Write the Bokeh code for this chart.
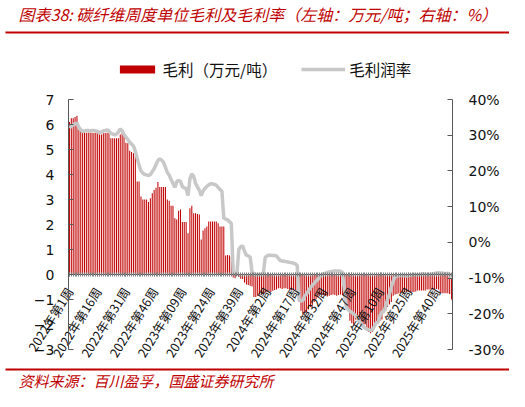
import math
from bokeh.plotting import figure
from bokeh.models import (Range1d, LinearAxis, SingleIntervalTicker, FixedTicker,
                          PrintfTickFormatter, Label, BoxAnnotation, Legend,
                          LegendItem, ColumnDataSource)
from bokeh.embed import file_html
from bokeh.resources import INLINE

# ---------------- data ----------------
# weekly gross profit (万元/吨), 2022 week 1 .. 2025 week 48
profit = [
    6.10, 6.25, 6.25, 6.30, 6.35,
    5.78, 5.75, 5.70,
    5.68, 5.67, 5.68, 5.67, 5.67, 5.66, 5.67, 5.65, 5.60, 5.60, 5.65, 5.66, 5.67, 5.66,
    5.45, 5.45, 5.45, 5.45, 5.45,
    5.60, 5.75, 5.55,
    5.27, 5.25, 4.95, 4.90, 4.85, 4.75,
    3.72, 3.72, 3.12, 3.00, 3.00, 3.00,
    2.90, 3.05, 3.25, 3.38, 3.47, 3.70,
    3.50, 3.50, 3.50, 3.50,
    3.00, 2.95, 2.75, 2.75, 2.25, 2.20, 2.55, 2.60,
    2.10, 2.10, 2.10, 1.65, 2.65, 2.75, 2.45, 2.45, 2.42, 2.40,
    1.40, 1.76, 1.85, 1.92, 2.12, 2.12, 2.12, 2.12, 2.12, 2.05,
    1.92, 1.92, 1.92, 0.76, 0.78, 0.76, 0.70,
    -0.12, -0.15, -0.05, -0.10, -0.17, -0.18, -0.32, -0.40, -0.42, -0.45, -0.48,
    -0.90, -0.90, -0.85, -0.80, -0.80,
    -0.75, -0.72, -0.70, -0.68, -0.70, -0.65, -0.62, -0.60,
    -0.55, -0.55, -0.58, -0.55, -0.55, -0.58, -0.60, -0.62, -0.60, -0.62, -0.70,
    -1.10, -1.45, -1.60, -1.55, -1.50, -1.40, -1.30, -1.25, -1.10, -1.00, -0.90, -0.82, -0.82, -0.82,
    -0.85, -0.88, -0.85, -0.82, -0.80, -0.82, -0.85, -0.82, -0.80,
    -0.82, -0.95, -1.20, -1.40, -1.85, -1.95, -2.00, -1.80, -1.75, -1.80, -1.97, -2.00, -2.00,
    -2.20, -2.30, -2.35, -2.30, -2.05, -2.00, -1.95, -1.85, -1.80, -1.55, -1.45, -1.30, -1.20,
    -1.10, -0.85, -0.80, -0.78, -0.75,
    -0.75, -0.72, -0.70, -0.70, -0.70, -0.70, -0.70, -0.70, -0.68, -0.64, -0.64, -0.64, -0.64,
    -0.64, -0.60, -0.60, -0.58, -0.60, -0.60, -0.58, -0.60, -0.75, -0.75, -0.75, -0.75, -0.75,
    -0.78, -1.00,
]

# weekly gross margin (%)
margin = [
    32.0, 32.5, 32.9, 33.2, 33.4,
    32.2, 31.5, 31.0,
    31.2, 31.3, 31.3, 31.2, 31.3, 31.3, 31.2, 31.0, 30.8, 30.9, 31.2, 31.3, 31.5, 31.2,
    30.5, 30.3, 30.1, 30.3, 30.9,
    31.8, 31.2, 30.2,
    29.5, 28.8, 28.0, 27.5, 27.0, 25.5,
    23.5, 21.5, 20.0, 19.4, 19.0, 18.9,
    18.7, 19.0, 19.8, 20.6, 21.8, 22.9,
    23.4, 23.0, 22.4, 21.0,
    19.6, 18.8, 17.6, 16.5, 15.4, 17.0, 17.3, 17.1,
    15.6, 15.3, 15.0, 13.1, 17.8, 19.2, 18.5, 16.5, 15.5, 14.6,
    13.1, 14.4, 15.1, 15.7, 16.1, 16.4, 16.4, 16.2, 16.0, 15.4,
    14.8, 14.3, 6.8, 6.5, 6.3, 5.8, 5.3,
    -8.5, -8.6, -8.5, -2.0, -1.2, -1.0, -2.5, -3.6, -3.8, -4.1, -8.3,
    -8.8, -9.0, -9.0, -9.0, -8.9,
    -8.8, -4.2, -3.8, -3.6, -3.6, -3.7, -3.7, -3.8,
    -4.5, -5.1, -5.2, -5.3, -5.4, -5.5, -5.6, -5.7, -5.8, -6.0, -6.5,
    -16.2, -16.4, -16.3, -15.0, -14.4, -13.5, -12.7, -12.0, -11.5, -10.8, -10.4, -9.6, -9.1, -8.8,
    -8.6, -8.4, -8.3, -8.2, -8.1, -8.0, -8.0, -8.0, -8.1,
    -8.4, -13.0, -18.0, -18.8, -19.3, -19.6, -20.0, -20.5, -21.2, -22.0, -22.8, -23.5, -24.0,
    -24.3, -24.5, -24.6, -24.5, -23.5, -22.5, -22.3, -20.5, -19.5, -19.3, -18.0, -16.0, -14.5,
    -12.5, -10.8, -9.6, -9.4, -9.3,
    -9.3, -9.2, -9.3, -9.4, -9.3, -9.2, -9.1, -9.0, -9.0, -9.1, -9.0, -8.9, -8.8,
    -8.9, -9.0, -9.0, -8.9, -8.8, -8.7, -8.6, -8.5, -8.6, -8.6, -8.7, -8.8, -8.6,
    -9.0, -10.0,
]

tick_labels = ["2022年第1周", "2022年第16周", "2022年第31周", "2022年第46周",
               "2023年第09周", "2023年第24周", "2023年第39周", "2024年第2周",
               "2024年第17周", "2024年第32周", "2024年第47周", "2025年第10周",
               "2025年第25周", "2025年第40周"]
tick_pos = [0, 15, 30, 45, 60, 75, 90, 105, 120, 135, 150, 165, 180, 195]

left_lim = (-3, 7)
right_lim = (-30, 40)
series_names = ["毛利（万元/吨）", "毛利润率"]
title_text = "图表38:  碳纤维周度单位毛利及毛利率（左轴：万元/吨；右轴：%）"
source_text = "资料来源：百川盈孚，国盛证券研究所"

# ---------------- layout geometry (canvas px) ----------------
W, H = 509, 391
AX_L, AX_R = 68, 452      # x of left / right axis lines
AX_T, AX_B = 99, 349      # y (from top) of the axis tops / bottoms

RED = "#C00000"
AX = "#595959"
CJK = "Noto Sans CJK SC"
N = len(profit)
idx = list(range(N))

ux = (AX_R - AX_L) / N
x_rng = Range1d(-0.5 - AX_L / ux, N - 0.5 + (W - AX_R) / ux)
uy = (AX_B - AX_T) / (left_lim[1] - left_lim[0])
y_rng = Range1d(left_lim[0] - (H - AX_B) / uy, left_lim[1] + AX_T / uy)
up = (AX_B - AX_T) / (right_lim[1] - right_lim[0])
p_rng = Range1d(right_lim[0] - (H - AX_B) / up, right_lim[1] + AX_T / up)

p = figure(width=W, height=H, output_backend="svg", toolbar_location=None,
           x_range=x_rng, y_range=y_rng, x_axis_location=None, y_axis_location=None,
           min_border=0)
p.extra_y_ranges = {"pct": p_rng}
p.outline_line_color = None
p.xgrid.grid_line_color = None
p.ygrid.grid_line_color = None
p.background_fill_color = "white"
p.border_fill_color = "white"

src = ColumnDataSource(dict(x=idx, profit=profit, margin=margin))
bars = p.vbar(x="x", top="profit", bottom=0, width=0.55, source=src,
              fill_color=RED, line_color=None)
gline = p.line(x="x", y="margin", y_range_name="pct", source=src,
               line_color="#C8C8C8", line_width=3.5)

# category axis sitting on the zero line
xa = LinearAxis(fixed_location=0, bounds=(-0.5, N - 0.5),
                ticker=FixedTicker(ticks=tick_pos, minor_ticks=idx),
                major_label_overrides={k: v for k, v in zip(tick_pos, tick_labels)},
                major_label_orientation=math.radians(58))
xa.axis_line_color = AX
xa.major_tick_in = 2
xa.major_tick_out = 2
xa.minor_tick_in = 2
xa.minor_tick_out = 2
xa.major_tick_line_color = "#808080"
xa.minor_tick_line_color = "#808080"
xa.major_label_standoff = 12
xa.major_label_text_font = CJK
xa.major_label_text_font_size = "12.5px"
xa.major_label_text_color = "#111111"
p.add_layout(xa, "below")

ya = LinearAxis(fixed_location=-0.5, bounds=left_lim,
                ticker=SingleIntervalTicker(interval=1, num_minor_ticks=0))
ra = LinearAxis(fixed_location=N - 0.5, bounds=right_lim, y_range_name="pct",
                ticker=SingleIntervalTicker(interval=10, num_minor_ticks=0),
                formatter=PrintfTickFormatter(format="%d%%"))
for a, so in [(ya, 14), (ra, 16)]:
    a.axis_line_color = AX
    a.major_tick_line_color = AX
    a.major_tick_in = 5
    a.major_tick_out = 0
    a.minor_tick_line_color = None
    a.major_label_standoff = so
    a.major_label_text_font = "DejaVu Sans"
    a.major_label_text_font_size = "14px"
    a.major_label_text_color = "#111111"
p.add_layout(ya, "left")
p.add_layout(ra, "right")

legend = Legend(items=[LegendItem(label=series_names[0], renderers=[bars]),
                       LegendItem(label=series_names[1], renderers=[gline])],
                orientation="horizontal", location=(114.6, H - 79.5),
                glyph_width=44, glyph_height=10, label_height=10, label_standoff=4,
                spacing=24, padding=0, margin=0, border_line_color=None,
                background_fill_alpha=0, label_text_font=CJK,
                label_text_font_size="15.5px", label_text_color="#111111")
p.add_layout(legend)

# title and source note (screen px measured up from the canvas bottom)
for txt, ty, fs in [(title_text, H - 13, "16px"), (source_text, H - 380, "15px")]:
    p.add_layout(Label(x=18, y=ty, x_units="screen", y_units="screen", text=txt,
                       text_font=CJK, text_font_style="italic", text_font_size=fs,
                       text_color=RED, text_baseline="middle"))

for top in [31, 368]:
    p.add_layout(BoxAnnotation(left=5, right=W, bottom=H - top - 2, top=H - top,
                               left_units="screen", right_units="screen",
                               bottom_units="screen", top_units="screen",
                               fill_color=RED, fill_alpha=1, line_color=None))

open("out.html", "w").write(file_html(p, INLINE))
